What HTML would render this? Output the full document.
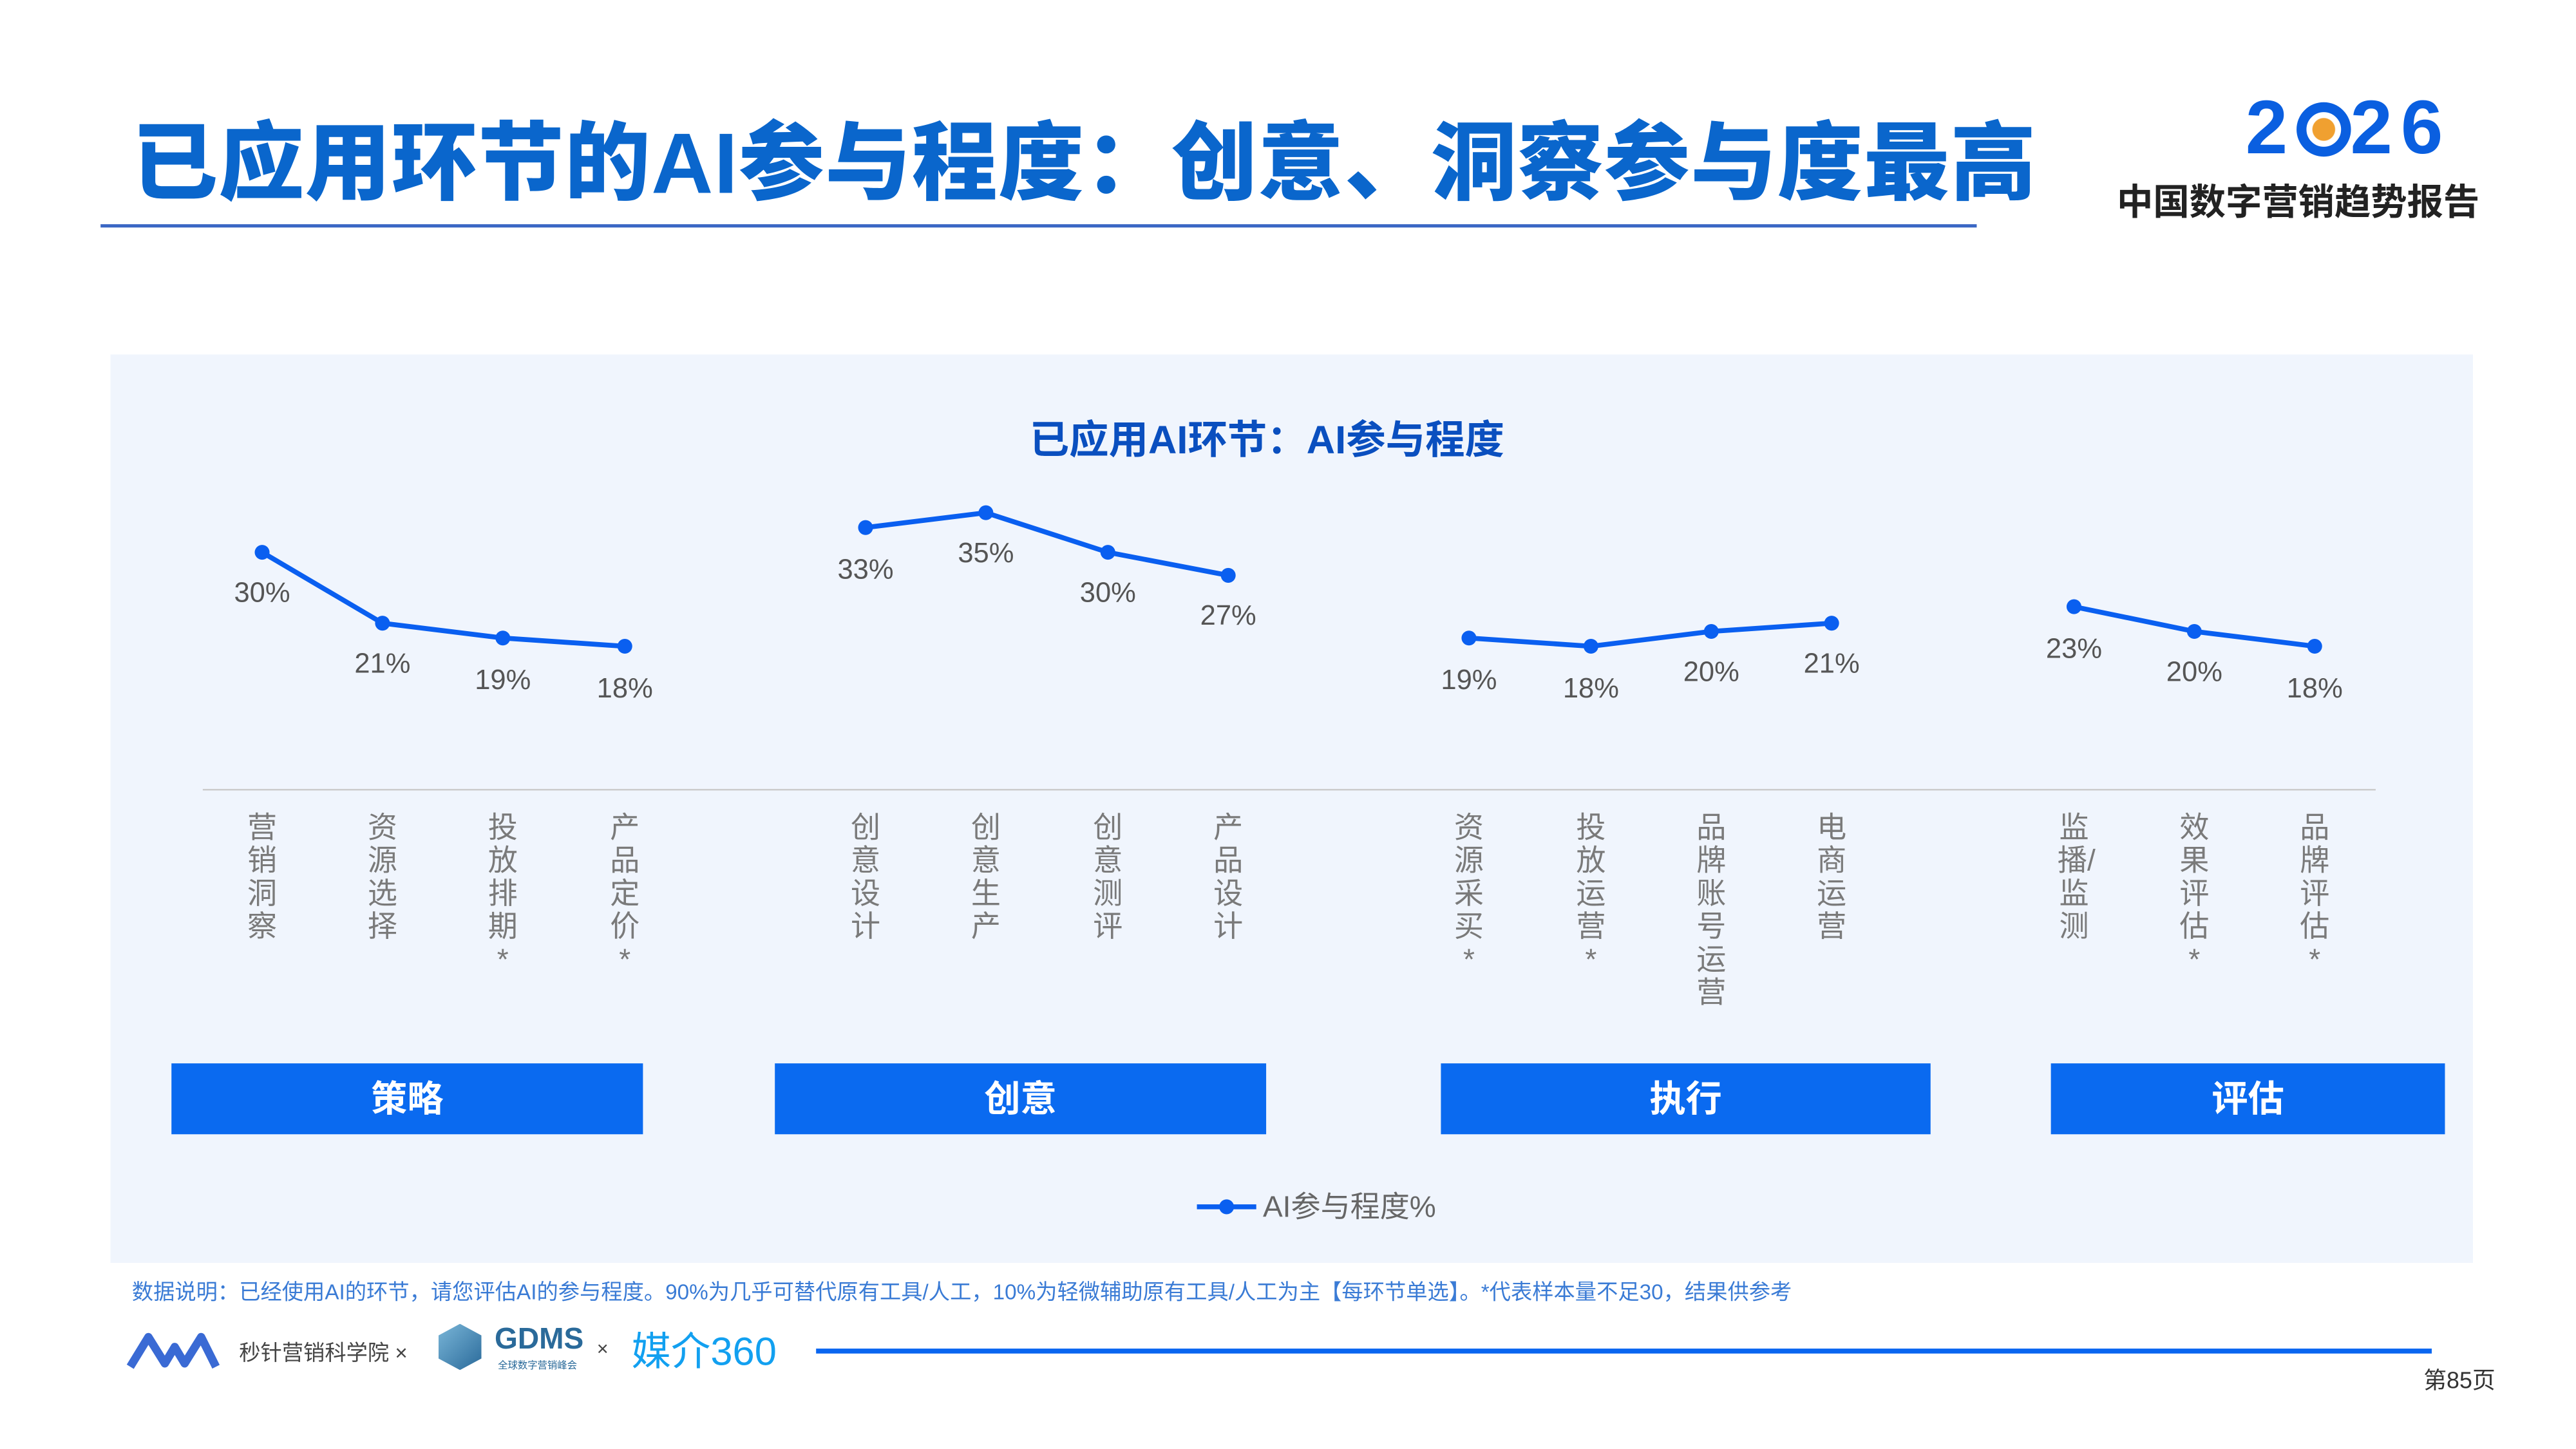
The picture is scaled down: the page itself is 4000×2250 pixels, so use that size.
<!DOCTYPE html>
<html><head><meta charset="utf-8"><style>
html,body{margin:0;padding:0;background:#fff;width:4000px;height:2250px;overflow:hidden}
#w{position:absolute;left:0;top:0;width:1562.5px;height:879px;transform:scale(2.56);transform-origin:0 0;font-family:"Liberation Sans","Noto Sans CJK SC",sans-serif}
.a{position:absolute;white-space:nowrap}
.btn{position:absolute;top:645px;height:43px;background:#0a6af0;color:#fff;font-size:22px;font-weight:bold;text-align:center;line-height:43px}
.v{position:absolute;top:492px;width:20px;font-size:18px;line-height:20px;color:#7a7a7a;text-align:center;white-space:normal}
</style></head><body><div id="w">
<div class="a" style="left:80px;top:57px;font-size:52px;font-weight:900;color:#0a66cc;letter-spacing:0.5px">已应用环节的AI参与程度：创意、洞察参与度最高</div>
<div class="a" style="left:61px;top:136px;width:1138px;height:2px;background:#3a66c4"></div>
<div class="a" style="left:1362px;top:50px;font-size:46px;font-weight:900;color:#0a5fe0;letter-spacing:5px">2<span style="display:inline-block;width:33px;height:33px;border:6px solid #0a5fe0;border-radius:50%;box-sizing:border-box;position:relative;top:2px;background:radial-gradient(#f0a030 45%,#fff 48%)"></span>26</div>
<div class="a" style="left:1284px;top:105px;font-size:22px;font-weight:bold;color:#222">中国数字营销趋势报告</div>
<div class="a" style="left:67px;top:215px;width:1433px;height:551px;background:#f0f5fd"></div>
<div class="a" style="left:0;width:1537px;top:247px;text-align:center;font-size:24px;font-weight:bold;color:#0a4fbf">已应用AI环节：AI参与程度</div>
<svg class="a" style="left:0;top:0" width="1562" height="879" font-family="Liberation Sans,Noto Sans CJK SC,sans-serif">
<line x1="123" y1="479" x2="1441" y2="479" stroke="#ccc" stroke-width="1"/>
<g stroke="#0a5ff0" stroke-width="3" fill="none">
<polyline points="159,335 232,378 305,387 379,392"/>
<polyline points="525,320 598,311 672,335 745,349"/>
<polyline points="891,387 965,392 1038,383 1111,378"/>
<polyline points="1258,368 1331,383 1404,392"/>
<line x1="726" y1="732" x2="762" y2="732"/>
</g>
<g fill="#0a5ff0">
<circle cx="159" cy="335" r="4.5"/><circle cx="232" cy="378" r="4.5"/><circle cx="305" cy="387" r="4.5"/><circle cx="379" cy="392" r="4.5"/>
<circle cx="525" cy="320" r="4.5"/><circle cx="598" cy="311" r="4.5"/><circle cx="672" cy="335" r="4.5"/><circle cx="745" cy="349" r="4.5"/>
<circle cx="891" cy="387" r="4.5"/><circle cx="965" cy="392" r="4.5"/><circle cx="1038" cy="383" r="4.5"/><circle cx="1111" cy="378" r="4.5"/>
<circle cx="1258" cy="368" r="4.5"/><circle cx="1331" cy="383" r="4.5"/><circle cx="1404" cy="392" r="4.5"/>
<circle cx="744" cy="732" r="4.5"/>
</g>
<g fill="#555" font-size="17" text-anchor="middle">
<text x="159" y="365">30%</text><text x="232" y="408">21%</text><text x="305" y="418">19%</text><text x="379" y="423">18%</text>
<text x="525" y="351">33%</text><text x="598" y="341">35%</text><text x="672" y="365">30%</text><text x="745" y="379">27%</text>
<text x="891" y="418">19%</text><text x="965" y="423">18%</text><text x="1038" y="413">20%</text><text x="1111" y="408">21%</text>
<text x="1258" y="399">23%</text><text x="1331" y="413">20%</text><text x="1404" y="423">18%</text>
</g>
<text x="766" y="738" font-size="18" fill="#666">AI参与程度%</text>
</svg>
<div class="v" style="left:149px">营销洞察</div>
<div class="v" style="left:222px">资源选择</div>
<div class="v" style="left:295px">投放排期*</div>
<div class="v" style="left:369px">产品定价*</div>
<div class="v" style="left:515px">创意设计</div>
<div class="v" style="left:588px">创意生产</div>
<div class="v" style="left:662px">创意测评</div>
<div class="v" style="left:735px">产品设计</div>
<div class="v" style="left:881px">资源采买*</div>
<div class="v" style="left:955px">投放运营*</div>
<div class="v" style="left:1028px">品牌账号运营</div>
<div class="v" style="left:1101px">电商运营</div>
<div class="v" style="left:1248px">监播/监测</div>
<div class="v" style="left:1321px">效果评估*</div>
<div class="v" style="left:1394px">品牌评估*</div>
<div class="btn" style="left:104px;width:286px">策略</div>
<div class="btn" style="left:470px;width:298px">创意</div>
<div class="btn" style="left:874px;width:297px">执行</div>
<div class="btn" style="left:1244px;width:239px">评估</div>
<div class="a" style="left:80px;top:773px;font-size:13px;color:#3a7bd5">数据说明：已经使用AI的环节，请您评估AI的参与程度。90%为几乎可替代原有工具/人工，10%为轻微辅助原有工具/人工为主【每环节单选】。*代表样本量不足30，结果供参考</div>
<svg class="a" style="left:76px;top:805px" width="58" height="28"><polyline points="3,24 14,6 24,22 30,12 36,22 46,6 55,24" fill="none" stroke="#3a6ad4" stroke-width="5" stroke-linejoin="round"/></svg>
<div class="a" style="left:145px;top:810px;font-size:13px;color:#444">秒针营销科学院 ×</div>
<div class="a" style="left:266px;top:803px;width:26px;height:28px;background:linear-gradient(135deg,#7ab6d8,#2a6a9a);clip-path:polygon(50% 0,100% 25%,100% 75%,50% 100%,0 75%,0 25%)"></div>
<div class="a" style="left:300px;top:802px;font-size:18px;font-weight:bold;color:#2a6a9a">GDMS</div>
<div class="a" style="left:302px;top:823px;font-size:6px;color:#2a6a9a">全球数字营销峰会</div>
<div class="a" style="left:362px;top:811px;font-size:12px;color:#444">×</div>
<div class="a" style="left:383px;top:800px;font-size:24px;color:#12a0f0">媒介360</div>
<div class="a" style="left:495px;top:818px;width:980px;height:3px;background:#0a66f0"></div>
<div class="a" style="left:1470px;top:827px;font-size:14px;color:#333">第85页</div>
</div></body></html>
